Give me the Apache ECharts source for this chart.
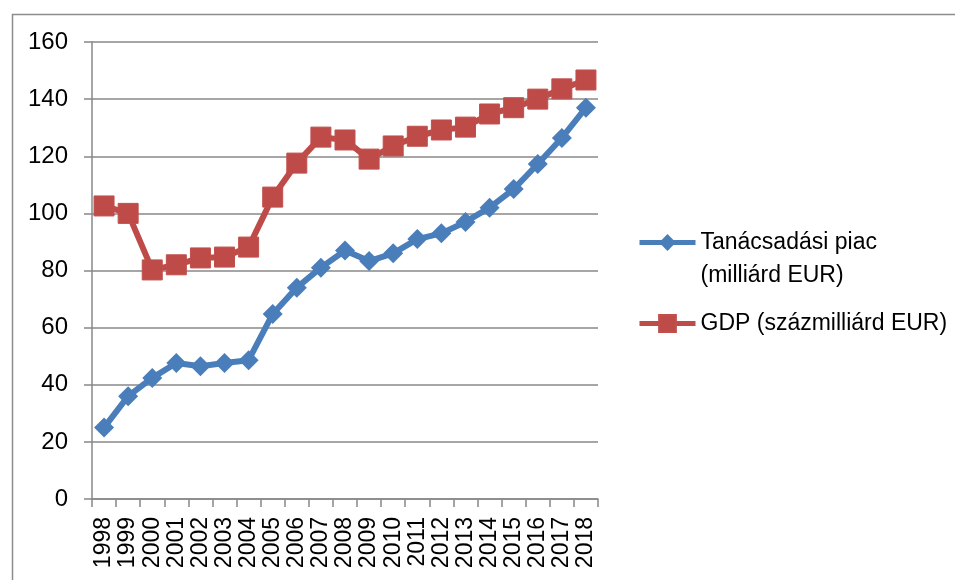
<!DOCTYPE html>
<html>
<head>
<meta charset="utf-8">
<script src="https://cdn.jsdelivr.net/npm/echarts@6/dist/echarts.min.js"></script>
<style>html,body{margin:0;padding:0;background:#fff;}#c{width:955px;height:580px;}</style>
</head>
<body>
<div id="c"></div>
<script>
const years = ['1998','1999','2000','2001','2002','2003','2004','2005','2006','2007','2008','2009','2010','2011','2012','2013','2014','2015','2016','2017','2018'];
const consulting = [25, 36, 42.4, 47.6, 46.5, 47.6, 48.6, 64.8, 74, 81, 87, 83.3, 86, 91, 93, 97, 102, 108.5, 117.3, 126.4, 137];
const gdp = [102.6, 100, 80.2, 82, 84.4, 84.7, 88.2, 105.7, 117.6, 126.7, 125.7, 119, 123.6, 127, 129.2, 130.2, 134.8, 137, 140, 143.6, 146.7];
const yTicks = {min: 0, max: 160, interval: 20};
const nameA = 'Tanácsadási piac (milliárd EUR)';
const nameB = 'GDP (százmilliárd EUR)';

const font = 'Liberation Sans, Arial, sans-serif';
const chart = echarts.init(document.getElementById('c'), null, {renderer: 'canvas'});
chart.setOption({
  animation: false,
  backgroundColor: '#fff',
  graphic: [{
    type: 'rect', left: 10, top: 12, z: -1,
    shape: {width: 1000, height: 1000},
    style: {fill: 'none', stroke: '#8c8c8c', lineWidth: 1.5}
  }],
  grid: {left: 92, right: 357, top: 42, bottom: 81, containLabel: false},
  legend: [{
    orient: 'vertical', left: 637, top: 193, padding: 0,
    data: [nameA],
    itemWidth: 56, itemHeight: 21, itemGap: 0,
    lineStyle: {width: 5},
    formatter: function(){ return '\nTanácsadási piac\n(milliárd EUR)'; },
    textStyle: {fontFamily: font, fontSize: 23, color: '#000', lineHeight: 33}
  }, {
    orient: 'vertical', left: 637, top: 307, padding: 0,
    data: [nameB],
    itemWidth: 56, itemHeight: 21, itemGap: 0,
    lineStyle: {width: 5},
    textStyle: {fontFamily: font, fontSize: 23, color: '#000', lineHeight: 33}
  }],
  xAxis: {
    type: 'category', data: years, boundaryGap: true,
    axisLine: {lineStyle: {color: '#888', width: 1.5}},
    axisTick: {show: true, interval: 0, length: 8, lineStyle: {color: '#888', width: 1.5}},
    axisLabel: {rotate: 90, interval: 0, margin: 18, fontFamily: font, fontSize: 23, color: '#000'},
    splitLine: {show: false}
  },
  yAxis: {
    type: 'value', min: yTicks.min, max: yTicks.max, interval: yTicks.interval,
    axisLine: {show: true, lineStyle: {color: '#888', width: 1.5}},
    axisTick: {show: true, length: 8, lineStyle: {color: '#888', width: 1.5}},
    axisLabel: {margin: 24, fontFamily: font, fontSize: 24, color: '#000'},
    splitLine: {show: true, lineStyle: {color: '#888', width: 1.5}}
  },
  series: [{
    name: nameA, type: 'line', data: consulting,
    symbol: 'diamond', symbolSize: 20, showSymbol: true,
    lineStyle: {color: '#4A7EBB', width: 6},
    itemStyle: {color: '#4A7EBB'}
  }, {
    name: nameB, type: 'line', data: gdp,
    symbol: 'rect', symbolSize: 20, showSymbol: true,
    lineStyle: {color: '#BE4B48', width: 6},
    itemStyle: {color: '#BE4B48', borderColor: '#C0504D', borderWidth: 1}
  }]
});
</script>
</body>
</html>
